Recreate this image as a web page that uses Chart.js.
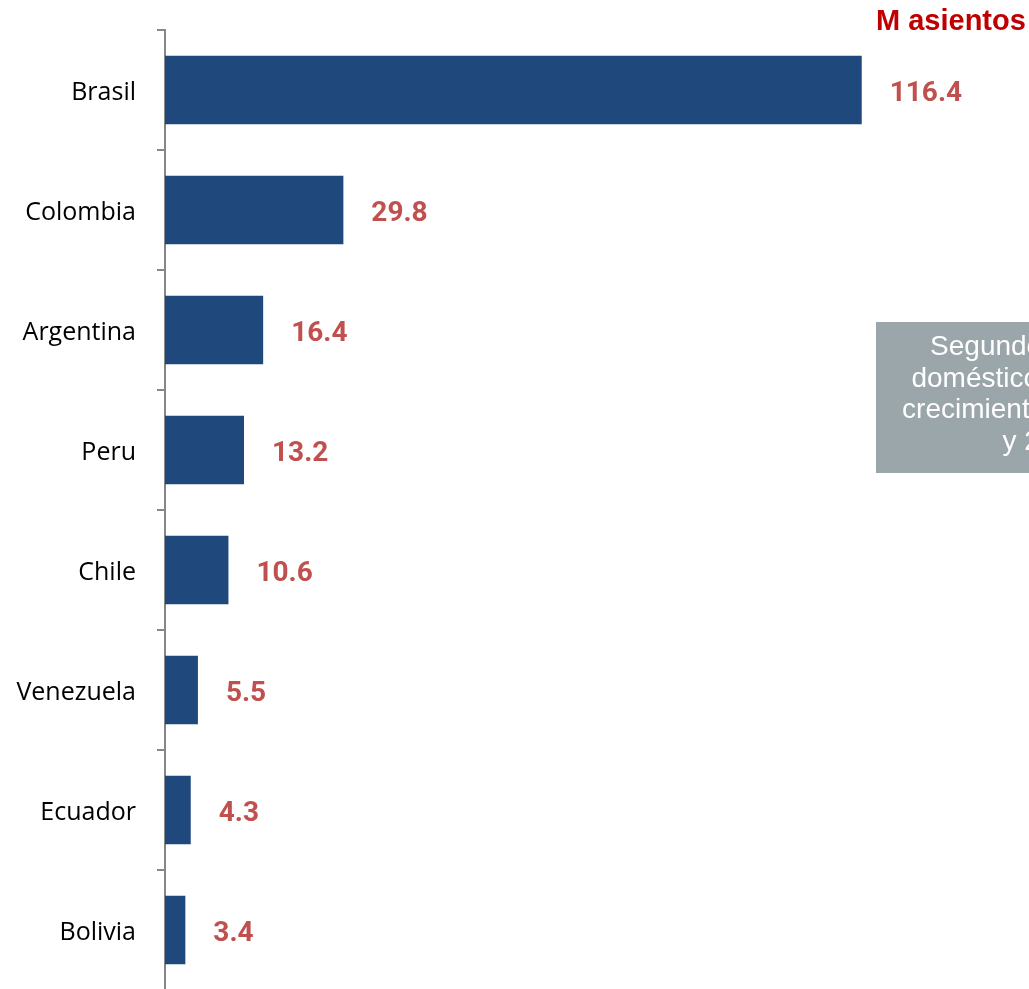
<!DOCTYPE html>
<html>
<head>
<meta charset="utf-8">
<script src="https://cdn.jsdelivr.net/npm/chart.js@4"></script>
<style>
  html, body { margin: 0; padding: 0; background: #fff; overflow: hidden; }
  canvas { display: block; }
</style>
</head>
<body>
<canvas id="chart" width="1029" height="990"></canvas>
<script>
// Asientos por país (millones)
const countries = ['Brasil', 'Colombia', 'Argentina', 'Peru', 'Chile', 'Venezuela', 'Ecuador', 'Bolivia'];
const seats = [116.4, 29.8, 16.4, 13.2, 10.6, 5.5, 4.3, 3.4];
const unitLabel = 'M asientos';
const noteLines = ['Segundo mercado', 'doméstico con mayor', 'crecimiento entre 2010', 'y 2015'];

const BAR = '#1F497D';
const VALUE_RED = '#C0504D';

// Value labels at the end of each bar
const valueLabels = {
  id: 'valueLabels',
  afterDatasetsDraw(chart) {
    const ctx = chart.ctx;
    const meta = chart.getDatasetMeta(0);
    ctx.save();
    ctx.fillStyle = VALUE_RED;
    ctx.font = 'bold 28px Roboto, "Open Sans", sans-serif';
    ctx.textAlign = 'left';
    ctx.textBaseline = 'middle';
    meta.data.forEach((bar, i) => {
      ctx.fillText(seats[i].toFixed(1), bar.x + 28, bar.y + 4);
    });
    ctx.restore();
  }
};

// Unit caption and side note box
const annotations = {
  id: 'annotations',
  afterDraw(chart) {
    const ctx = chart.ctx;
    ctx.save();
    ctx.fillStyle = '#C00000';
    ctx.font = 'bold 29px "Liberation Sans", Arial, sans-serif';
    ctx.textAlign = 'left';
    ctx.textBaseline = 'alphabetic';
    ctx.fillText(unitLabel, 876, 30);

    ctx.fillStyle = '#9BA6AA';
    ctx.fillRect(876, 322, 240, 151);
    ctx.fillStyle = '#FFFFFF';
    ctx.font = '28px "Liberation Sans", Arial, sans-serif';
    ctx.textAlign = 'center';
    const cx = 1044.5;
    noteLines.forEach((t, i) => ctx.fillText(t, cx, 355 + i * 31.5));
    ctx.restore();
  }
};

new Chart(document.getElementById('chart'), {
  type: 'bar',
  data: {
    labels: countries,
    datasets: [{
      data: seats,
      backgroundColor: BAR,
      borderWidth: 0,
      barPercentage: 0.57,
      categoryPercentage: 1
    }]
  },
  options: {
    indexAxis: 'y',
    responsive: false,
    animation: false,
    layout: { padding: { top: 30, right: 26, bottom: 0, left: 0 } },
    plugins: { legend: { display: false }, tooltip: { enabled: false } },
    scales: {
      x: {
        display: false,
        min: 0,
        max: 140
      },
      y: {
        afterFit(scale) {
          scale.width = 165;
          scale.paddingTop = 0;
          scale.paddingBottom = 0;
        },
        border: { display: true, color: '#878787', width: 2 },
        grid: {
          offset: true,
          drawOnChartArea: false,
          drawTicks: true,
          tickLength: 8,
          color: '#878787',
          lineWidth: 2
        },
        ticks: {
          color: '#000000',
          padding: 21,
          labelOffset: 3,
          font: { family: '"Open Sans", sans-serif', size: 25 }
        }
      }
    }
  },
  plugins: [valueLabels, annotations]
});
</script>
</body>
</html>
